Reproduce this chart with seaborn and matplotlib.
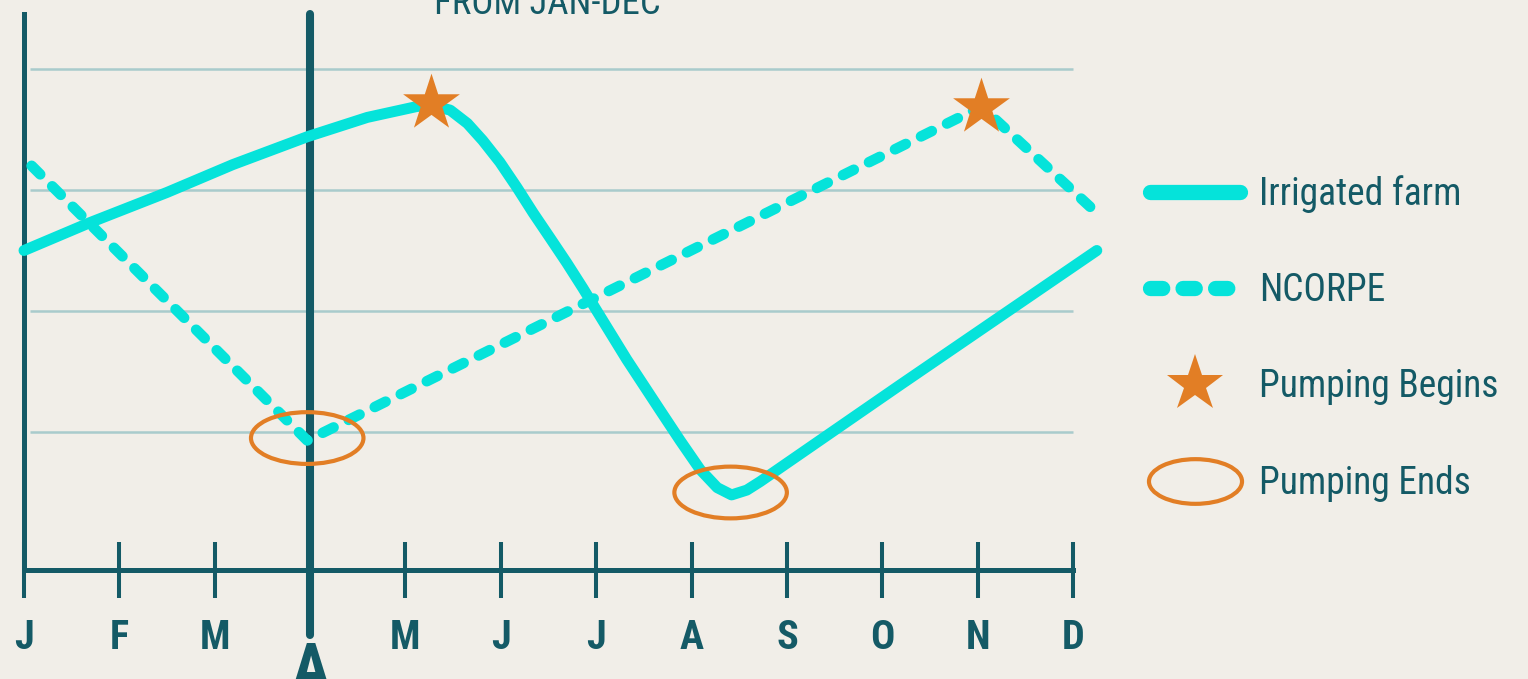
import numpy as np
import pandas as pd
import seaborn as sns
import matplotlib.pyplot as plt
from matplotlib.lines import Line2D
from matplotlib.path import Path
from matplotlib.transforms import Affine2D

# data (x in months from Jan = 0, y in arbitrary level units)
months = ['J', 'F', 'M', 'A', 'M', 'J', 'J', 'A', 'S', 'O', 'N', 'D']

farm_x = [0.0, 0.69, 1.50, 2.19, 2.97, 3.60, 4.12, 4.27, 4.47, 4.65, 4.81, 4.99, 5.17,
          5.34, 5.52, 5.69, 5.86, 6.00, 6.32, 6.67, 6.88, 7.09, 7.27, 7.42, 7.58, 7.72,
          9.19, 11.25]
farm_y = [2.50, 2.73, 2.98, 3.21, 3.44, 3.60, 3.69, 3.70, 3.66, 3.55, 3.41, 3.23, 3.02,
          2.81, 2.60, 2.40, 2.19, 2.01, 1.60, 1.18, 0.93, 0.69, 0.54, 0.48, 0.52, 0.59,
          1.39, 2.50]

ncorpe_x = [0.08, 2.97, 10.04, 11.25]
ncorpe_y = [3.20, 0.93, 3.69, 2.81]

begin_x = [4.27, 10.04]
begin_y = [3.72, 3.69]

end_x = [2.97, 7.41]
end_y = [0.95, 0.50]

grid_levels = [1, 2, 3, 4]

BG = '#f1eee8'
CYAN = '#05e3da'
ORANGE = '#e27e25'
TEAL = '#145a66'
GRID = '#a9cbcc'

sns.set_theme(style='white')
plt.rcParams['font.family'] = ['Roboto Condensed', 'Roboto', 'DejaVu Sans']

fig = plt.figure(figsize=(15.28, 6.79), dpi=100)
fig.patch.set_facecolor(BG)
ax = fig.add_axes([24 / 1528, 1 - 570 / 679, (1110 - 24) / 1528, 556 / 679])
ax.set_facecolor(BG)

ax.hlines(grid_levels, 0.06, 11, color=GRID, lw=1.8, zorder=0)

farm = pd.DataFrame({'month': farm_x, 'level': farm_y})
ncorpe = pd.DataFrame({'month': ncorpe_x, 'level': ncorpe_y})

sns.lineplot(data=farm, x='month', y='level', color=CYAN, lw=7.9, ax=ax,
             solid_capstyle='round', solid_joinstyle='round', clip_on=False, zorder=3)
sns.lineplot(data=ncorpe, x='month', y='level', color=CYAN, lw=7.6, ax=ax,
             ls=(0, (1.15, 1.6)), dash_capstyle='round', dash_joinstyle='round',
             clip_on=False, zorder=3)

# April marker line
ax.axvline(3, ymin=-0.117, ymax=1, color=TEAL, lw=5.8, clip_on=False, zorder=2)

sns.scatterplot(x=begin_x, y=begin_y, marker='*', s=43 ** 2, color=ORANGE,
                linewidth=0, ax=ax, zorder=5)

ellipse = Path.unit_circle().transformed(Affine2D().scale(1, 0.46))
ax.scatter(end_x, end_y, marker=ellipse, s=81 ** 2, facecolors='none',
           edgecolors=ORANGE, linewidths=3, zorder=5)

ax.set_xlim(0, (1110 - 24) / 95.36)
ax.set_ylim((553 - 570) / 121, (553 - 14) / 121)
ax.set_xlabel('')
ax.set_ylabel('')
ax.set_yticks([])

ax.set_xticks(range(12))
ax.set_xticklabels([m if i != 3 else '' for i, m in enumerate(months)],
                   fontsize=29, fontweight='bold', color=TEAL)
ax.tick_params(axis='x', direction='inout', length=40, width=2.9, color=TEAL, pad=15, bottom=True)
ax.text(3, -0.73, months[3], ha='center', va='top', fontsize=46, fontweight='bold',
        color=TEAL, clip_on=False)

for loc in ['top', 'right']:
    ax.spines[loc].set_visible(False)
ax.spines['bottom'].set_bounds(0, 11)
for loc in ['left', 'bottom']:
    ax.spines[loc].set_color(TEAL)
    ax.spines[loc].set_linewidth(3.6)

fig.text(547 / 1528, 1 - 14 / 679, 'FROM JAN-DEC', ha='center', va='baseline',
         fontsize=26.5, color=TEAL)

leg_ellipse = Path.unit_circle().transformed(Affine2D().scale(1, 0.48))
handles = [
    Line2D([], [], color=CYAN, lw=11, solid_capstyle='round'),
    Line2D([], [], color=CYAN, lw=11, ls=(0, (0.8, 1.33)), dash_capstyle='round'),
    Line2D([], [], ls='none', marker='*', ms=43, color=ORANGE, mew=0),
    Line2D([], [], ls='none', marker=leg_ellipse, ms=67, mfc='none', mec=ORANGE, mew=3),
]
labels = ['Irrigated farm', 'NCORPE', 'Pumping Begins', 'Pumping Ends']
leg = fig.legend(handles, labels, loc='upper left', bbox_to_anchor=(1150 / 1528, 1 - 175 / 679),
                 frameon=False, fontsize=27, handlelength=2.4, handletextpad=0.5,
                 labelspacing=1.58, borderpad=0, borderaxespad=0, numpoints=1)
for t in leg.get_texts():
    t.set_color(TEAL)

fig.savefig('out.png', dpi=100, facecolor=BG)
